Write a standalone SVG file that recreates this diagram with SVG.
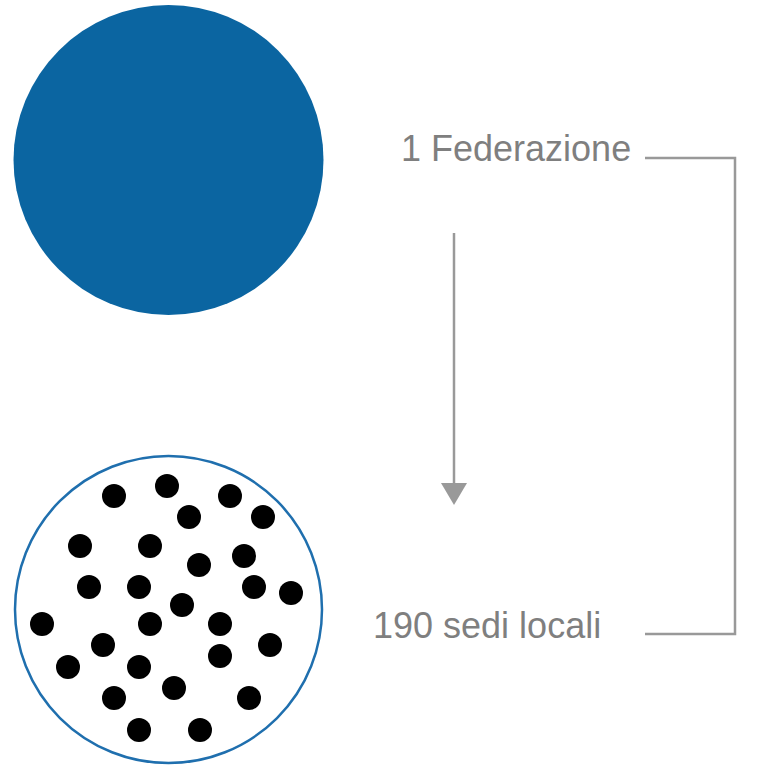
<svg xmlns="http://www.w3.org/2000/svg" width="776" height="766" viewBox="0 0 776 766">
<defs>
<style>
.lbl{font-family:"Liberation Sans",Arial,sans-serif;fill:#7f7f7f;font-size:36px}
.dot{fill:#000}
.conn{stroke:#999;stroke-width:2.5;fill:none}
</style>
<marker id="ah" markerUnits="userSpaceOnUse" markerWidth="22" markerHeight="26" refX="0" refY="13" orient="auto" viewBox="0 0 22 26">
<path d="M0,0 L22,13 L0,26 Z" fill="#999"/>
</marker>
</defs>
<rect width="776" height="766" fill="#fff"/>
<g id="federazione">
<circle cx="168.5" cy="160" r="155" fill="#0b65a1"/>
</g>
<g id="sedi">
<circle cx="168.5" cy="609.5" r="153.5" fill="#fff" stroke="#1f6fae" stroke-width="2.5"/>
<circle class="dot" cx="114" cy="496" r="12"/>
<circle class="dot" cx="167" cy="486" r="12"/>
<circle class="dot" cx="230" cy="496" r="12"/>
<circle class="dot" cx="189" cy="517" r="12"/>
<circle class="dot" cx="263" cy="517" r="12"/>
<circle class="dot" cx="80" cy="546" r="12"/>
<circle class="dot" cx="150" cy="546" r="12"/>
<circle class="dot" cx="244" cy="556" r="12"/>
<circle class="dot" cx="199" cy="565" r="12"/>
<circle class="dot" cx="89" cy="587" r="12"/>
<circle class="dot" cx="139" cy="587" r="12"/>
<circle class="dot" cx="254" cy="587" r="12"/>
<circle class="dot" cx="291" cy="593" r="12"/>
<circle class="dot" cx="182" cy="605" r="12"/>
<circle class="dot" cx="42" cy="624" r="12"/>
<circle class="dot" cx="150" cy="624" r="12"/>
<circle class="dot" cx="220" cy="624" r="12"/>
<circle class="dot" cx="103" cy="645" r="12"/>
<circle class="dot" cx="270" cy="645" r="12"/>
<circle class="dot" cx="68" cy="667" r="12"/>
<circle class="dot" cx="139" cy="667" r="12"/>
<circle class="dot" cx="220" cy="656" r="12"/>
<circle class="dot" cx="174" cy="688" r="12"/>
<circle class="dot" cx="114" cy="698" r="12"/>
<circle class="dot" cx="249" cy="698" r="12"/>
<circle class="dot" cx="139" cy="730" r="12"/>
<circle class="dot" cx="200" cy="730" r="12"/>
</g>
<g id="label-federazione">
<text class="lbl" x="401" y="161" font-size="35">1 Federazione</text>
</g>
<g id="label-sedi">
<text class="lbl" x="373" y="638">190 sedi locali</text>
</g>
<g id="connectors">
<path class="conn" d="M645,158 H735 V634 H645"/>
<line x1="454" y1="233" x2="454" y2="483" stroke="#999" stroke-width="2.5" marker-end="url(#ah)"/>
</g>
</svg>
